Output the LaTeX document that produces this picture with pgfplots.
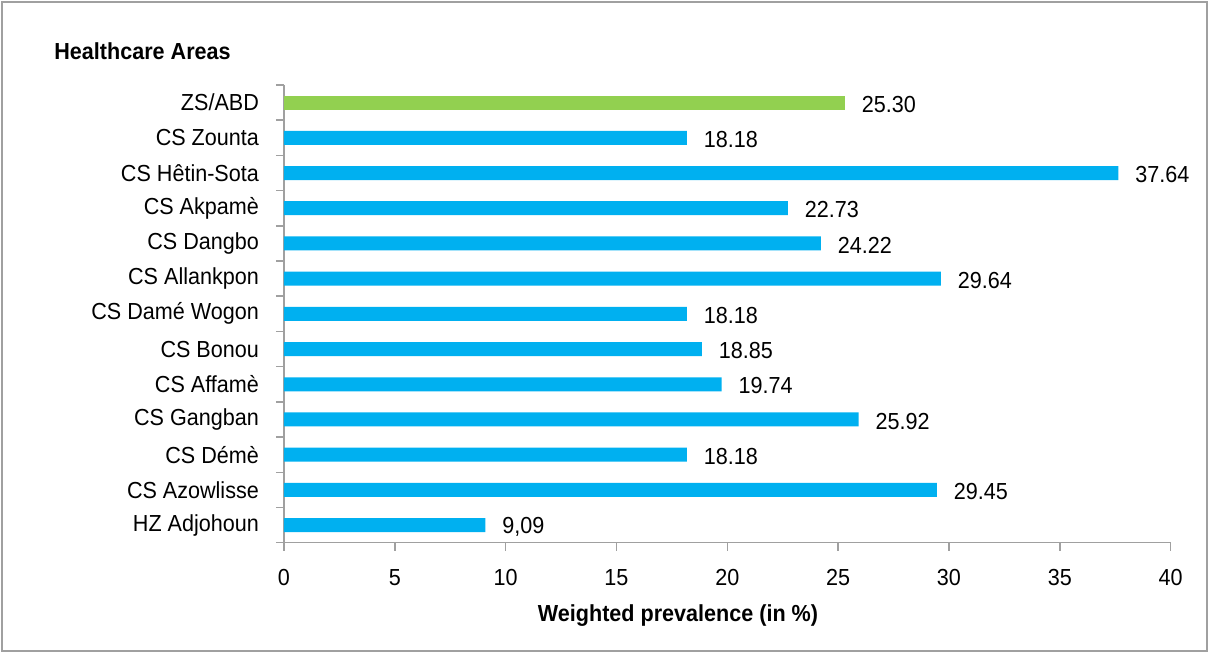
\documentclass[border=0pt]{standalone}
\usepackage{fontspec}
\setmainfont[FakeStretch=0.93]{Liberation Sans}
\usepackage{pgfplots}
\pgfplotsset{compat=1.18}
\definecolor{barblue}{HTML}{00B0F0}
\definecolor{bargreen}{HTML}{92D050}
\definecolor{axgray}{HTML}{A0A0A0}
\newcommand{\chartfont}{\fontsize{11.6}{13}\selectfont}
\begin{document}
\begin{tikzpicture}
\begin{axis}[
  at={(0,0)}, anchor=south west,
  scale only axis,
  width=443.3pt, height=228.85pt,
  xbar, bar width=7pt, bar shift=0pt,
  xmin=0, xmax=40,
  ymin=-0.5, ymax=12.5,
  xtick={0,5,...,40},
  ytick={0,...,12},
  yticklabels={HZ Adjohoun, CS Azowlisse, CS Démè, CS Gangban, CS Affamè, CS Bonou, CS Damé Wogon, CS Allankpon, CS Dangbo, CS Akpamè, CS Hêtin-Sota, CS Zounta, ZS/ABD},
  minor ytick={-0.5,0.5,...,12.5},
  axis x line*=bottom, axis y line*=left,
  axis line style={axgray, line width=0.75pt, -},
  tick align=outside,
  major tick length=4pt, minor tick length=4pt,
  every major x tick/.append style={axgray, line width=0.75pt},
  every major y tick/.append style={draw=none},
  every minor y tick/.append style={axgray, line width=0.75pt},
  /pgf/number format/assume math mode=true,
  tick label style={font=\chartfont},
  yticklabel style={anchor=east, inner sep=0pt, xshift=-8.35pt},
  xticklabel style={anchor=base, inner sep=0pt, yshift=-17.6pt},
  point meta=explicit symbolic,
  nodes near coords,
  every node near coord/.append style={font=\chartfont, anchor=west, inner sep=0pt, xshift=8.3pt, yshift=-0.8pt},
  clip=false,
]
\addplot[draw=none, fill=barblue] table[meta=lab] {
x y lab
9.09 0 9,09
29.45 1 29.45
18.18 2 18.18
25.92 3 25.92
19.74 4 19.74
18.85 5 18.85
18.18 6 18.18
29.64 7 29.64
24.22 8 24.22
22.73 9 22.73
37.64 10 37.64
18.18 11 18.18
};
\addplot[draw=none, fill=bargreen] table[meta=lab] {
x y lab
25.30 12 25.30
};
\end{axis}
\path[use as bounding box] (-142pt,-55.15pt) rectangle (463pt,271.35pt);
\draw[axgray, line width=0.75pt] (-141pt,-54.15pt) rectangle (461.5pt,270.35pt);
\node[anchor=base west, inner sep=0pt, font=\chartfont\bfseries] at (-115pt,241.35pt) {Healthcare Areas};
\node[anchor=base, inner sep=0pt, font=\chartfont\bfseries] at (197pt,-39.65pt) {Weighted prevalence (in \%)};
\end{tikzpicture}
\end{document}
